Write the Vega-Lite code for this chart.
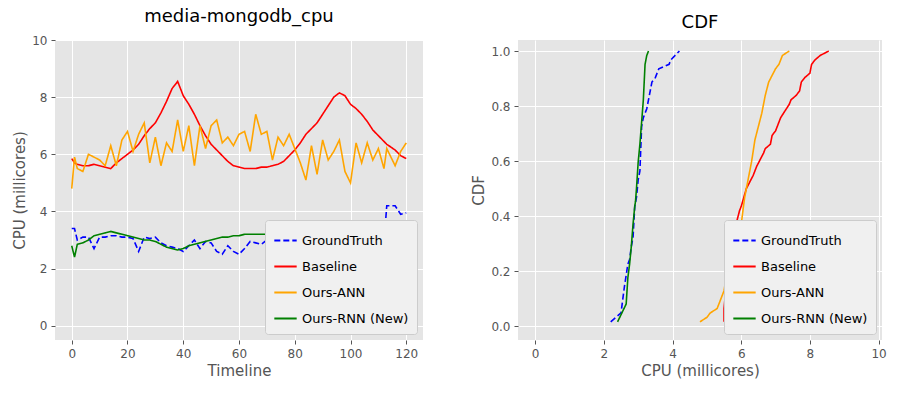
{
  "$schema": "https://vega.github.io/schema/vega-lite/v6.json",
  "background": "white",
  "padding": {"left": 12, "top": 8, "right": 4, "bottom": 5},
  "datasets": {
    "cpu": [
      {"t":0,"GroundTruth":3.4,"Baseline":5.85,"Ours-ANN":4.8,"Ours-RNN (New)":2.8},
      {"t":1,"GroundTruth":3.4,"Baseline":5.7,"Ours-ANN":5.9,"Ours-RNN (New)":2.4},
      {"t":2,"GroundTruth":3.0,"Baseline":5.65,"Ours-ANN":5.5,"Ours-RNN (New)":2.85},
      {"t":4,"GroundTruth":3.1,"Baseline":5.6,"Ours-ANN":5.4,"Ours-RNN (New)":2.9},
      {"t":6,"GroundTruth":3.1,"Baseline":5.6,"Ours-ANN":6.0,"Ours-RNN (New)":3.0},
      {"t":8,"GroundTruth":2.7,"Baseline":5.65,"Ours-ANN":5.9,"Ours-RNN (New)":3.15},
      {"t":10,"GroundTruth":3.1,"Baseline":5.6,"Ours-ANN":5.8,"Ours-RNN (New)":3.2},
      {"t":12,"GroundTruth":3.1,"Baseline":5.55,"Ours-ANN":5.6,"Ours-RNN (New)":3.25},
      {"t":14,"GroundTruth":3.15,"Baseline":5.5,"Ours-ANN":6.3,"Ours-RNN (New)":3.3},
      {"t":16,"GroundTruth":3.15,"Baseline":5.7,"Ours-ANN":5.6,"Ours-RNN (New)":3.25},
      {"t":18,"GroundTruth":3.1,"Baseline":5.85,"Ours-ANN":6.5,"Ours-RNN (New)":3.2},
      {"t":20,"GroundTruth":3.1,"Baseline":6.0,"Ours-ANN":6.8,"Ours-RNN (New)":3.15},
      {"t":22,"GroundTruth":3.05,"Baseline":6.15,"Ours-ANN":6.1,"Ours-RNN (New)":3.1},
      {"t":24,"GroundTruth":2.6,"Baseline":6.35,"Ours-ANN":6.7,"Ours-RNN (New)":3.05},
      {"t":26,"GroundTruth":3.1,"Baseline":6.65,"Ours-ANN":7.1,"Ours-RNN (New)":3.0},
      {"t":28,"GroundTruth":3.05,"Baseline":6.9,"Ours-ANN":5.7,"Ours-RNN (New)":3.0},
      {"t":30,"GroundTruth":3.1,"Baseline":7.1,"Ours-ANN":6.6,"Ours-RNN (New)":2.95},
      {"t":32,"GroundTruth":2.9,"Baseline":7.45,"Ours-ANN":5.6,"Ours-RNN (New)":2.85},
      {"t":34,"GroundTruth":2.8,"Baseline":7.85,"Ours-ANN":6.4,"Ours-RNN (New)":2.75},
      {"t":36,"GroundTruth":2.75,"Baseline":8.3,"Ours-ANN":6.1,"Ours-RNN (New)":2.7},
      {"t":38,"GroundTruth":2.7,"Baseline":8.55,"Ours-ANN":7.2,"Ours-RNN (New)":2.65},
      {"t":40,"GroundTruth":2.6,"Baseline":8.05,"Ours-ANN":6.1,"Ours-RNN (New)":2.7},
      {"t":42,"GroundTruth":2.8,"Baseline":7.75,"Ours-ANN":7.0,"Ours-RNN (New)":2.8},
      {"t":44,"GroundTruth":3.0,"Baseline":7.4,"Ours-ANN":5.6,"Ours-RNN (New)":2.85},
      {"t":46,"GroundTruth":2.7,"Baseline":7.0,"Ours-ANN":7.0,"Ours-RNN (New)":2.9},
      {"t":48,"GroundTruth":2.95,"Baseline":6.65,"Ours-ANN":6.2,"Ours-RNN (New)":2.95},
      {"t":50,"GroundTruth":2.9,"Baseline":6.35,"Ours-ANN":7.0,"Ours-RNN (New)":3.0},
      {"t":52,"GroundTruth":2.6,"Baseline":6.15,"Ours-ANN":7.2,"Ours-RNN (New)":3.05},
      {"t":54,"GroundTruth":2.5,"Baseline":5.95,"Ours-ANN":6.4,"Ours-RNN (New)":3.1},
      {"t":56,"GroundTruth":2.8,"Baseline":5.75,"Ours-ANN":6.6,"Ours-RNN (New)":3.1},
      {"t":58,"GroundTruth":2.6,"Baseline":5.6,"Ours-ANN":6.3,"Ours-RNN (New)":3.15},
      {"t":60,"GroundTruth":2.5,"Baseline":5.55,"Ours-ANN":6.7,"Ours-RNN (New)":3.15},
      {"t":62,"GroundTruth":2.7,"Baseline":5.5,"Ours-ANN":6.8,"Ours-RNN (New)":3.2},
      {"t":64,"GroundTruth":2.95,"Baseline":5.5,"Ours-ANN":6.1,"Ours-RNN (New)":3.2},
      {"t":66,"GroundTruth":2.9,"Baseline":5.5,"Ours-ANN":7.4,"Ours-RNN (New)":3.2},
      {"t":68,"GroundTruth":2.85,"Baseline":5.55,"Ours-ANN":6.7,"Ours-RNN (New)":3.2},
      {"t":70,"GroundTruth":3.0,"Baseline":5.55,"Ours-ANN":6.8,"Ours-RNN (New)":3.2},
      {"t":72,"GroundTruth":3.25,"Baseline":5.6,"Ours-ANN":5.8,"Ours-RNN (New)":3.2},
      {"t":74,"GroundTruth":2.85,"Baseline":5.65,"Ours-ANN":6.6,"Ours-RNN (New)":3.15},
      {"t":76,"GroundTruth":2.7,"Baseline":5.75,"Ours-ANN":6.3,"Ours-RNN (New)":3.1},
      {"t":78,"GroundTruth":2.6,"Baseline":5.95,"Ours-ANN":6.7,"Ours-RNN (New)":3.05},
      {"t":80,"GroundTruth":2.9,"Baseline":6.15,"Ours-ANN":6.2,"Ours-RNN (New)":3.0},
      {"t":82,"GroundTruth":2.6,"Baseline":6.4,"Ours-ANN":5.7,"Ours-RNN (New)":2.95},
      {"t":84,"GroundTruth":2.9,"Baseline":6.7,"Ours-ANN":5.1,"Ours-RNN (New)":2.9},
      {"t":86,"GroundTruth":2.2,"Baseline":6.9,"Ours-ANN":6.3,"Ours-RNN (New)":2.85},
      {"t":88,"GroundTruth":3.0,"Baseline":7.1,"Ours-ANN":5.3,"Ours-RNN (New)":2.8},
      {"t":90,"GroundTruth":3.3,"Baseline":7.4,"Ours-ANN":6.5,"Ours-RNN (New)":2.75},
      {"t":92,"GroundTruth":3.1,"Baseline":7.7,"Ours-ANN":5.8,"Ours-RNN (New)":2.7},
      {"t":94,"GroundTruth":2.9,"Baseline":8.0,"Ours-ANN":6.1,"Ours-RNN (New)":2.7},
      {"t":96,"GroundTruth":3.2,"Baseline":8.15,"Ours-ANN":6.5,"Ours-RNN (New)":2.65},
      {"t":98,"GroundTruth":3.1,"Baseline":8.05,"Ours-ANN":5.4,"Ours-RNN (New)":2.65},
      {"t":100,"GroundTruth":3.3,"Baseline":7.75,"Ours-ANN":5.0,"Ours-RNN (New)":2.65},
      {"t":102,"GroundTruth":3.5,"Baseline":7.6,"Ours-ANN":6.4,"Ours-RNN (New)":2.7},
      {"t":104,"GroundTruth":3.4,"Baseline":7.4,"Ours-ANN":5.7,"Ours-RNN (New)":2.7},
      {"t":106,"GroundTruth":3.6,"Baseline":7.15,"Ours-ANN":6.4,"Ours-RNN (New)":2.75},
      {"t":108,"GroundTruth":3.6,"Baseline":6.85,"Ours-ANN":5.8,"Ours-RNN (New)":2.8},
      {"t":110,"GroundTruth":3.4,"Baseline":6.65,"Ours-ANN":6.2,"Ours-RNN (New)":2.85},
      {"t":112,"GroundTruth":2.9,"Baseline":6.45,"Ours-ANN":5.5,"Ours-RNN (New)":2.9},
      {"t":113,"GroundTruth":4.2,"Baseline":6.35,"Ours-ANN":6.2,"Ours-RNN (New)":2.92},
      {"t":116,"GroundTruth":4.2,"Baseline":6.15,"Ours-ANN":5.6,"Ours-RNN (New)":3.0},
      {"t":118,"GroundTruth":3.9,"Baseline":5.95,"Ours-ANN":6.1,"Ours-RNN (New)":3.05},
      {"t":120,"GroundTruth":3.95,"Baseline":5.85,"Ours-ANN":6.4,"Ours-RNN (New)":3.1}
    ]
  },
  "data": {"name": "cpu"},
  "transform": [
    {"fold": ["GroundTruth", "Baseline", "Ours-ANN", "Ours-RNN (New)"], "as": ["series", "cpu"]}
  ],
  "spacing": 48,
  "hconcat": [
    {
      "width": 368,
      "height": 300,
      "title": "media-mongodb_cpu",
      "mark": {"type": "line", "strokeWidth": 1.6},
      "encoding": {
        "x": {"field": "t", "type": "quantitative", "title": "Timeline",
              "scale": {"domain": [-6, 126], "nice": false}, "axis": {"values": [0, 20, 40, 60, 80, 100, 120]}},
        "y": {"field": "cpu", "type": "quantitative", "title": "CPU (millicores)",
              "scale": {"domain": [-0.5, 10], "nice": false}, "axis": {"values": [0, 2, 4, 6, 8, 10]}},
        "color": {"field": "series", "type": "nominal", "title": null,
                  "sort": ["GroundTruth", "Baseline", "Ours-ANN", "Ours-RNN (New)"],
                  "scale": {"domain": ["GroundTruth", "Baseline", "Ours-ANN", "Ours-RNN (New)"], "range": ["blue", "red", "orange", "green"]}},
        "strokeDash": {"field": "series", "type": "nominal", "title": null,
                  "sort": ["GroundTruth", "Baseline", "Ours-ANN", "Ours-RNN (New)"],
                  "scale": {"domain": ["GroundTruth", "Baseline", "Ours-ANN", "Ours-RNN (New)"], "range": [[6, 3], [1, 0], [1, 0], [1, 0]]}},
        "order": {"field": "t"}
      }
    },
    {
      "width": 364,
      "height": 300,
      "title": "CDF",
      "transform": [
        {"window": [{"op": "cume_dist", "as": "cdf"}], "groupby": ["series"], "sort": [{"field": "cpu"}]}
      ],
      "mark": {"type": "line", "strokeWidth": 1.6},
      "encoding": {
        "x": {"field": "cpu", "type": "quantitative", "title": "CPU (millicores)",
              "scale": {"domain": [-0.5, 10.1], "nice": false}, "axis": {"values": [0, 2, 4, 6, 8, 10]}},
        "y": {"field": "cdf", "type": "quantitative", "title": "CDF",
              "scale": {"domain": [-0.05, 1.04], "nice": false}, "axis": {"values": [0, 0.2, 0.4, 0.6, 0.8, 1.0], "format": ".1f"}},
        "color": {"field": "series", "type": "nominal", "title": null,
                  "sort": ["GroundTruth", "Baseline", "Ours-ANN", "Ours-RNN (New)"],
                  "scale": {"domain": ["GroundTruth", "Baseline", "Ours-ANN", "Ours-RNN (New)"], "range": ["blue", "red", "orange", "green"]}},
        "strokeDash": {"field": "series", "type": "nominal", "title": null,
                  "sort": ["GroundTruth", "Baseline", "Ours-ANN", "Ours-RNN (New)"],
                  "scale": {"domain": ["GroundTruth", "Baseline", "Ours-ANN", "Ours-RNN (New)"], "range": [[6, 3], [1, 0], [1, 0], [1, 0]]}},
        "order": {"field": "cpu"}
      }
    }
  ],
  "resolve": {"legend": {"color": "independent", "strokeDash": "independent"}},
  "config": {
    "font": "DejaVu Sans",
    "view": {"fill": "#E5E5E5", "stroke": null},
    "title": {"fontSize": 18, "fontWeight": "normal", "color": "black", "offset": 8},
    "axis": {"gridColor": "white", "gridWidth": 1, "domain": false, "tickColor": "#555", "tickSize": 4,
             "labelColor": "#555", "labelFontSize": 12, "titleColor": "#555", "titleFontSize": 15,
             "titleFontWeight": "normal", "labelPadding": 4},
    "legend": {"orient": "bottom-right", "fillColor": "#F0F0F0", "strokeColor": "#CCCCCC", "padding": 8,
               "labelFontSize": 13, "labelColor": "black", "symbolType": "stroke", "symbolSize": 500,
               "symbolStrokeWidth": 2, "rowPadding": 6, "offset": 6, "cornerRadius": 3}
  }
}
